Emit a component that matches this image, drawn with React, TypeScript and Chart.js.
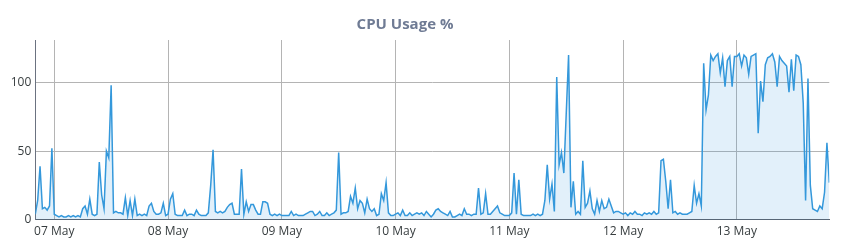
import { useEffect, useRef } from 'react';
import { Chart, registerables } from 'chart.js';

Chart.register(...registerables);

const chartTitle = 'CPU Usage %';

// Half-hourly samples; first sample is 06 May 20:00 (hour -4 relative to 07 May 00:00)
const startHour = -4;
const stepHours = 0.5;

const day06 = [4, 14, 39, 8, 9, 7, 10, 52];
const day07 = [
  4, 3, 2, 3, 2, 2, 3, 2, 3, 2, 3, 2,
  8, 10, 4, 15, 4, 3, 4, 42, 18, 8, 50, 45,
  98, 5, 6, 5, 5, 4, 16, 3, 14, 3, 15, 3,
  4, 3, 4, 3, 10, 12, 6, 4, 4, 5, 12, 3,
];
const day08 = [
  4, 15, 19, 4, 3, 3, 3, 7, 3, 4, 4, 3,
  7, 4, 3, 3, 3, 5, 25, 51, 6, 5, 6, 5,
  6, 9, 11, 12, 4, 4, 4, 37, 4, 13, 6, 11,
  11, 7, 4, 4, 13, 13, 12, 4, 3, 4, 3, 4,
];
const day09 = [
  3, 3, 3, 3, 6, 3, 4, 3, 3, 3, 4, 5,
  6, 6, 3, 4, 6, 3, 3, 5, 3, 4, 5, 7,
  49, 4, 5, 5, 6, 17, 12, 23, 8, 14, 12, 5,
  15, 8, 6, 8, 3, 4, 19, 14, 27, 5, 3, 3,
];
const day10 = [
  4, 5, 3, 7, 3, 3, 5, 3, 4, 5, 4, 5,
  3, 6, 4, 2, 4, 7, 8, 6, 5, 4, 3, 6,
  2, 2, 3, 4, 3, 8, 4, 4, 3, 4, 4, 23,
  4, 5, 19, 4, 4, 6, 8, 10, 5, 4, 3, 3,
];
const day11 = [
  3, 5, 34, 4, 29, 4, 3, 3, 3, 3, 4, 3,
  4, 3, 4, 14, 40, 15, 26, 6, 104, 40, 49, 34,
  77, 120, 9, 28, 4, 6, 4, 43, 9, 12, 21, 8,
  4, 14, 6, 14, 8, 9, 15, 10, 5, 6, 6, 5,
];
const day12 = [
  4, 5, 3, 5, 4, 6, 4, 4, 3, 5, 4, 5,
  4, 6, 4, 5, 43, 44, 28, 8, 29, 5, 6, 4,
  5, 4, 4, 4, 5, 6, 25, 12, 19, 10, 114, 80,
  91, 120, 116, 119, 121, 107, 118, 97, 116, 119, 97, 119,
];
const day13 = [
  119, 121, 112, 120, 118, 106, 119, 120, 121, 63, 101, 86,
  113, 118, 119, 121, 115, 97, 119, 116, 114, 112, 93, 117,
  94, 120, 119, 113, 85, 14, 103, 25, 8, 7, 6, 10,
  8, 20, 56, 27,
];

const cpuValues = [...day06, ...day07, ...day08, ...day09, ...day10, ...day11, ...day12, ...day13];

const xTickHours = [0, 24, 48, 72, 96, 120, 144];
const xTickLabels = ['07 May', '08 May', '09 May', '10 May', '11 May', '12 May', '13 May'];
const yTickValues = [0, 50, 100];

const xMin = -4;
const xMax = 163.5;
const yMin = 0;
const yMax = 131;

const titlePlugin = {
  id: 'customTitle',
  afterDraw(chart: any) {
    const ctx = chart.ctx;
    ctx.save();
    ctx.font = 'bold 15px "Open Sans"';
    ctx.fillStyle = '#6f7b94';
    ctx.textAlign = 'center';
    ctx.textBaseline = 'middle';
    ctx.fillText(chartTitle, 397, 17);
    ctx.restore();
  },
};

export default function App() {
  const canvasRef = useRef<HTMLCanvasElement | null>(null);

  useEffect(() => {
    if (!canvasRef.current) return;
    const points = cpuValues.map((v, i) => ({ x: startHour + i * stepHours, y: v }));
    const tickFont = { family: '"Open Sans"', size: 12 };
    const chart = new Chart(canvasRef.current, {
      type: 'line',
      data: {
        datasets: [
          {
            label: chartTitle,
            data: points,
            borderColor: '#3498db',
            borderWidth: 1.5,
            backgroundColor: 'rgba(52,152,219,0.14)',
            fill: 'origin',
            pointRadius: 0,
            tension: 0,
          },
        ],
      },
      options: {
        animation: false,
        responsive: false,
        layout: { padding: { top: 32, right: 7.7, left: 0, bottom: 0 } },
        plugins: {
          legend: { display: false },
          title: { display: false },
          tooltip: { enabled: false },
        },
        scales: {
          x: {
            type: 'linear',
            min: xMin,
            max: xMax,
            afterBuildTicks: (scale: any) => {
              scale.ticks = xTickHours.map((v) => ({ value: v }));
            },
            afterFit: (scale: any) => {
              scale.height = 25.3;
            },
            ticks: {
              autoSkip: false,
              maxRotation: 0,
              padding: 5,
              color: '#373d3f',
              font: tickFont,
              callback: (value: any) => {
                const idx = xTickHours.indexOf(Number(value));
                return idx >= 0 ? xTickLabels[idx] : '';
              },
            },
            grid: { color: '#b4b4b4', drawTicks: false, lineWidth: 1 },
            border: { color: '#5b6470', width: 1 },
          },
          y: {
            min: yMin,
            max: yMax,
            afterBuildTicks: (scale: any) => {
              scale.ticks = yTickValues.map((v) => ({ value: v }));
            },
            afterFit: (scale: any) => {
              scale.width = 27.3;
            },
            ticks: {
              padding: 4,
              color: '#373d3f',
              font: tickFont,
            },
            grid: { color: '#b4b4b4', drawTicks: false, lineWidth: 1 },
            border: { color: '#6b7280', width: 1 },
          },
        },
      },
      plugins: [titlePlugin],
    });
    return () => chart.destroy();
  }, []);

  return (
    <div style={{ width: 829, height: 237 }}>
      <canvas ref={canvasRef} width={829} height={237} style={{ display: 'block' }} />
    </div>
  );
}
